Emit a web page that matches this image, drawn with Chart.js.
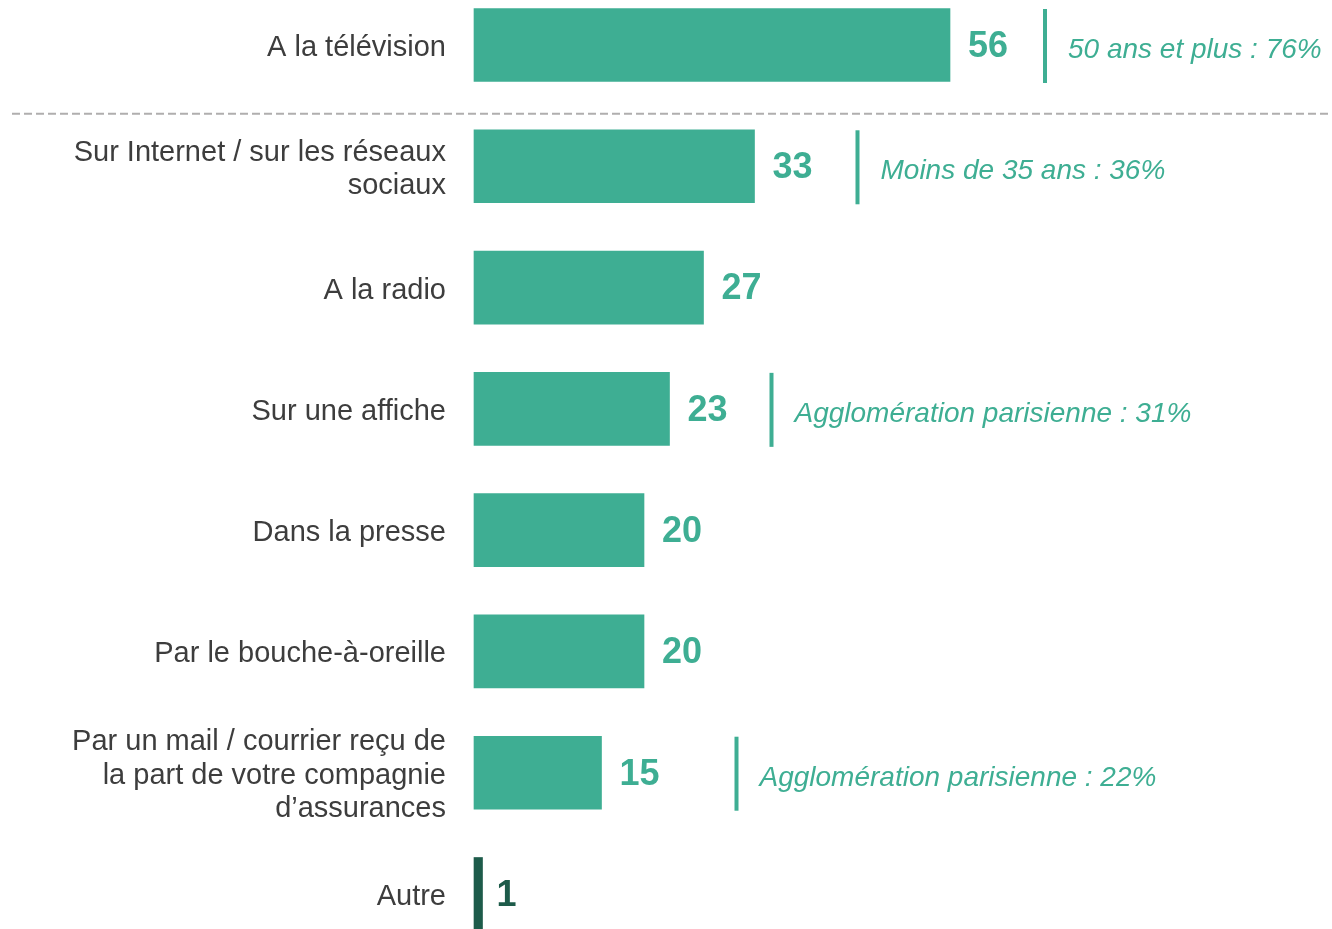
<!DOCTYPE html>
<html>
<head>
<meta charset="utf-8">
<script src="https://cdn.jsdelivr.net/npm/chart.js@4/dist/chart.umd.min.js"></script>
<style>
  html, body { margin: 0; padding: 0; background: #fff; }
  #wrap { width: 1332px; height: 929px; }
</style>
</head>
<body>
<div id="wrap"><canvas id="chart" width="1332" height="929"></canvas></div>
<script>
const categories = [
    'A la télévision',
    ['Sur Internet / sur les réseaux', 'sociaux'],
    'A la radio',
    'Sur une affiche',
    'Dans la presse',
    'Par le bouche-à-oreille',
    ['Par un mail / courrier reçu de', 'la part de votre compagnie', 'd\u2019assurances'],
    'Autre'
];
const values = [56, 33, 27, 23, 20, 20, 15, 1];
const notes = [
    '50 ans et plus : 76%',
    'Moins de 35 ans : 36%',
    '',
    'Agglomération parisienne : 31%',
    '',
    '',
    'Agglomération parisienne : 22%',
    ''
];

const TEAL = '#3eae93';
const DARK = '#1d5b4a';
const barColors = values.map((v, i) => i === values.length - 1 ? DARK : TEAL);

// value labels + side notes
const labelPlugin = {
    id: 'labels',
    afterDatasetsDraw(chart, args, opts) {
        const ctx = chart.ctx;
        const meta = chart.getDatasetMeta(0);
        ctx.save();
        meta.data.forEach((bar, i) => {
            ctx.fillStyle = barColors[i];
            ctx.font = 'bold 36px Arial, "Liberation Sans", sans-serif';
            ctx.textAlign = 'left';
            ctx.textBaseline = 'middle';
            const lx = i === values.length - 1 ? bar.x + 14 : bar.x + 18;
            ctx.fillText(String(values[i]), lx, bar.y + 2);

            if (notes[i]) {
                const x = bar.x + opts.offsets[i];
                ctx.fillStyle = TEAL;
                ctx.fillRect(x - 2, bar.y - 36, 4, 74);
                ctx.font = 'italic 28px Arial, "Liberation Sans", sans-serif';
                ctx.fillText(notes[i], x + 23, bar.y + 5);
            }
        });
        ctx.restore();
    }
};

// dashed separator under the first row
const separatorPlugin = {
    id: 'separator',
    afterDraw(chart) {
        const ctx = chart.ctx;
        const y = chart.scales.y;
        const yy = (y.getPixelForValue(0) + y.getPixelForValue(1)) / 2 + 8;
        ctx.save();
        ctx.strokeStyle = '#b0aeae';
        ctx.lineWidth = 2;
        ctx.setLineDash([8, 4]);
        ctx.beginPath();
        ctx.moveTo(12, yy);
        ctx.lineTo(1328, yy);
        ctx.stroke();
        ctx.restore();
    }
};

new Chart(document.getElementById('chart').getContext('2d'), {
    type: 'bar',
    data: {
        labels: categories,
        datasets: [{
            data: values,
            backgroundColor: barColors,
            barThickness: 73,
            clip: false
        }]
    },
    options: {
        indexAxis: 'y',
        responsive: false,
        animation: false,
        events: [],
        layout: { padding: { top: 45, bottom: 35, left: 0, right: 8 } },
        plugins: {
            legend: { display: false },
            tooltip: { enabled: false },
            labels: { offsets: [95, 103, 0, 102, 0, 0, 135, 0] }
        },
        scales: {
            x: {
                display: false,
                min: 0,
                max: 100
            },
            y: {
                offset: false,
                grid: { display: false, drawTicks: false },
                border: { display: false },
                afterFit(scale) {
                    scale.width = 474;
                    scale.paddingTop = 0;
                    scale.paddingBottom = 0;
                },
                ticks: {
                    color: '#3d3d3d',
                    padding: 28,
                    labelOffset: 3,
                    font: { family: 'Arial, "Liberation Sans", sans-serif', size: 29, lineHeight: 1.15 }
                }
            }
        }
    },
    plugins: [labelPlugin, separatorPlugin]
});
</script>
</body>
</html>
